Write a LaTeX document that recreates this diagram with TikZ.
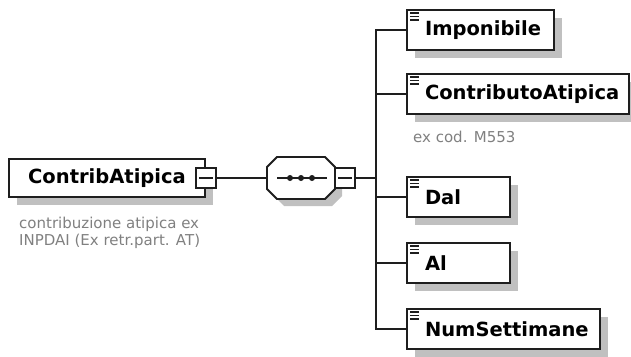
\documentclass[tikz,border=0pt]{standalone}
\usepackage{fontspec}
\setmainfont{DejaVu Sans}
\usetikzlibrary{positioning, shadows}

\definecolor{annotgray}{RGB}{128,128,128}
\definecolor{shadowgray}{RGB}{192,192,192}
\definecolor{linegray}{RGB}{30,30,30}

\tikzset{
  boxshadow/.style={general shadow={fill=shadowgray, shadow xshift=8pt, shadow yshift=-8pt}},
  elembox/.style={draw=linegray, line width=1.9pt, fill=white, minimum height=40pt,
    inner sep=0pt, anchor=west, boxshadow},
  elemtext/.style={inner sep=0pt, outer sep=0pt, font=\fontsize{19.5}{23}\selectfont\bfseries},
  mainbox/.style={draw=linegray, line width=1.9pt, fill=white, minimum width=196pt,
    minimum height=38pt, inner sep=0pt, boxshadow, font=\fontsize{19.5}{23}\selectfont\bfseries},
  seqbox/.style={minimum width=68pt, minimum height=42pt, inner sep=0pt, outer sep=0pt},
  seqline/.style={draw=linegray, line width=1.9pt, fill=white, line join=miter,
    general shadow={fill=shadowgray, shadow xshift=7pt, shadow yshift=-7pt}},
  minusbox/.style={draw=linegray, line width=1.8pt, fill=white, minimum size=20pt, inner sep=0pt,
    path picture={\draw[linegray, line width=1.8pt]
      ([xshift=3pt]path picture bounding box.west) -- ([xshift=-3pt]path picture bounding box.east);}},
  conn/.style={draw=linegray, line width=1.9pt},
  annot/.style={inner sep=0pt, text=annotgray, align=left, font=\fontsize{15}{16.5}\selectfont}
}

\begin{document}
\begin{tikzpicture}[x=1pt, y=1pt]
\useasboundingbox (0,0) rectangle (631,-356);

% root element
\node[mainbox] (contrib) at (107,-178) {ContribAtipica};
\node[minusbox] (contribminus) at (contrib.east) {};
\node[annot, anchor=north west] (contribdoc) at (19,-217) {contribuzione atipica ex\\INPDAI (Ex retr.part. AT)};

% sequence
\node[seqbox] (seq) at (301,-178) {};
\draw[seqline] ([xshift=10pt]seq.north west) -- ([xshift=-10pt]seq.north east)
  -- ([yshift=-10pt]seq.north east) -- ([yshift=10pt]seq.south east)
  -- ([xshift=-10pt]seq.south east) -- ([xshift=10pt]seq.south west)
  -- ([yshift=10pt]seq.south west) -- ([yshift=-10pt]seq.north west) -- cycle;
\node[minusbox, anchor=west] (seqminus) at ([xshift=-1pt]seq.east) {};
\draw[conn] ([xshift=10pt]seq.west) -- ([xshift=-8pt]seq.east);
\foreach \dx in {-11,0,11}
  \fill[linegray] ([xshift=\dx pt]seq.center) circle (3pt);

\coordinate (bus) at (376,-178);
\draw[conn] (contribminus.east) -- (seq.west);
\draw[conn] (seqminus.east) -- (bus);

% children
\node[elembox, minimum width=147pt] (imponibile) at (406,-30) {};
\node[elembox, minimum width=222pt] (contributo) at (406,-94) {};
\node[elembox, minimum width=103pt] (dal) at (406,-197) {};
\node[elembox, minimum width=103pt] (al) at (406,-263) {};
\node[elembox, minimum width=193pt] (numsett) at (406,-329) {};

\node[elemtext, right=19pt of imponibile.west] (imponibiletext) {Imponibile};
\node[elemtext, right=19pt of contributo.west] (contributotext) {ContributoAtipica};
\node[elemtext, right=19pt of dal.west] (daltext) {Dal};
\node[elemtext, right=19pt of al.west] (altext) {Al};
\node[elemtext, right=19pt of numsett.west] (numsetttext) {NumSettimane};

\node[annot, anchor=base west] (contributodoc) at (413,-142) {ex cod. M553};

\foreach \n in {imponibile,contributo,dal,al,numsett} {
  \draw[conn] (bus) |- (\n.west);
  \foreach \dy in {4,7.5,11} % simple type icon
    \draw[linegray, line width=1.3pt] ([shift={(4,-\dy)}]\n.north west) -- ++(9,0);
}

\end{tikzpicture}
\end{document}
